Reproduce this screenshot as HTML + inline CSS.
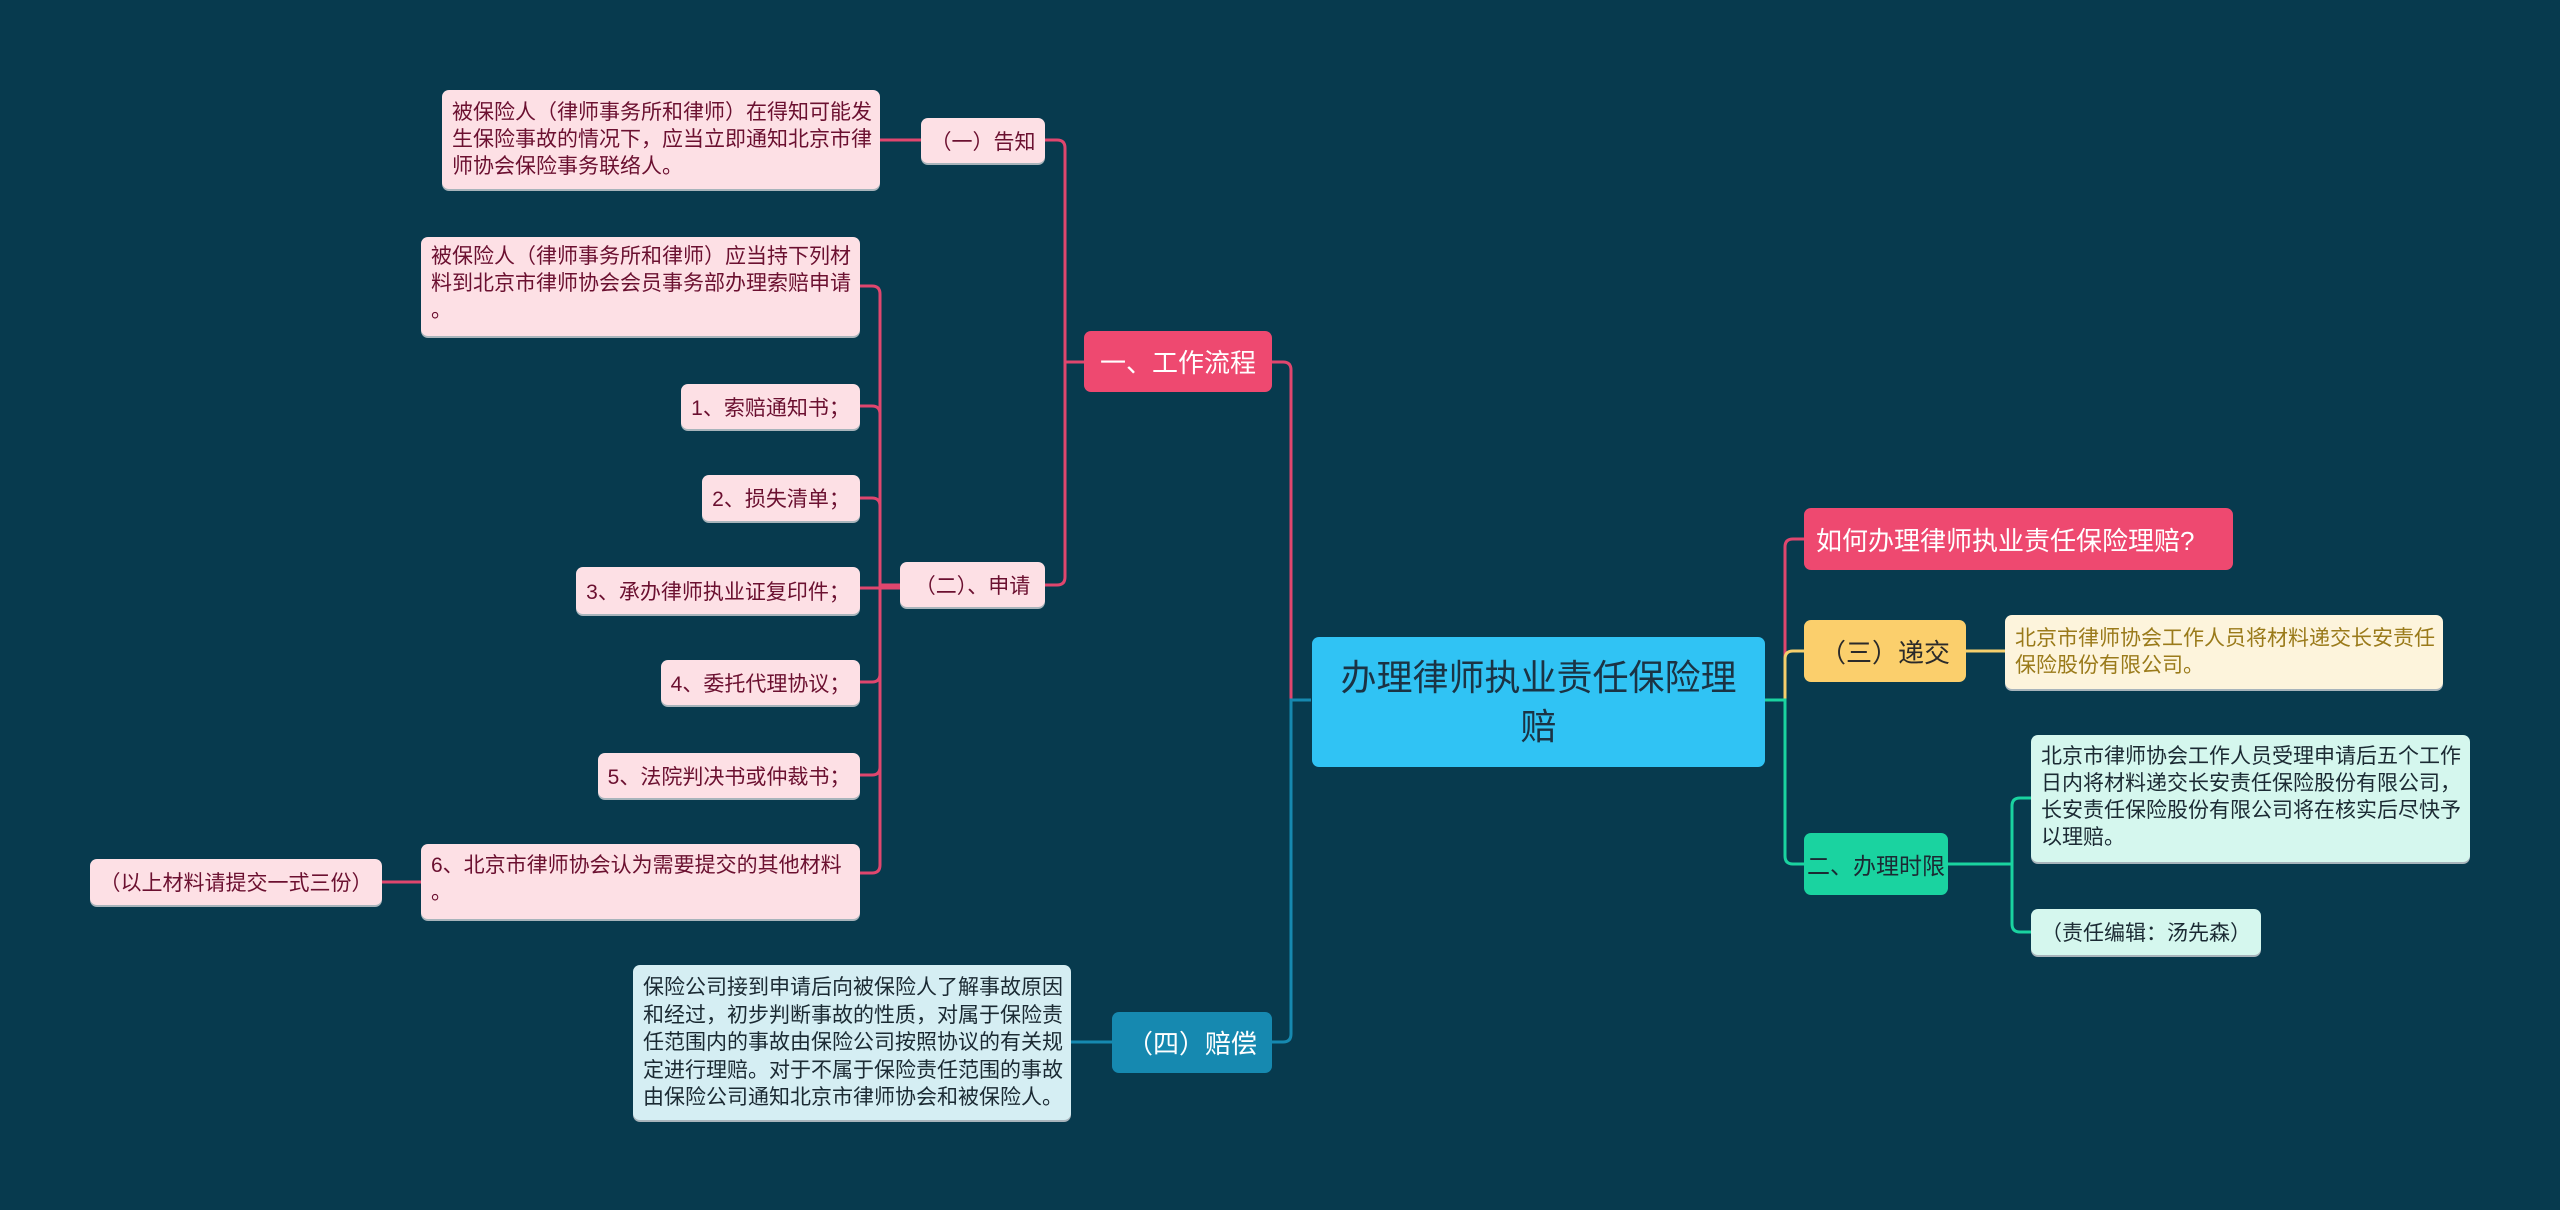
<!DOCTYPE html>
<html><head><meta charset="utf-8">
<style>
html,body{margin:0;padding:0}
body{width:2560px;height:1210px;background:#073a4e;position:relative;overflow:hidden;font-family:"Liberation Sans","Noto Sans CJK SC",sans-serif}
.n{position:absolute;box-sizing:border-box;border-radius:7px;display:flex;align-items:center;justify-content:center;white-space:nowrap}
.t{position:absolute;box-sizing:border-box;border-radius:7px;font-size:20.5px;line-height:27px;padding:6px 10px;white-space:nowrap}
.pk{background:#fde0e5;color:#6b1030;font-size:21px;box-shadow:0 2px 0 #a8b4bb}
svg{position:absolute;left:0;top:0}
path{fill:none;stroke-width:3}
</style></head><body>
<svg width="2560" height="1210">
<g stroke="#e0466e">
<path d="M1311 700 H1291 V370 Q1291 362 1283 362 H1272"/>
<path d="M1084 362 H1065 V148 Q1065 140 1057 140 H1045"/>
<path d="M1084 362 H1065 V577 Q1065 585 1057 585 H1045"/>
<path d="M900 585 H880 V294 Q880 286 872 286 H860"/>
<path d="M900 585 H880 V414 Q880 406 872 406 H860"/>
<path d="M900 585 H880 V506 Q880 498 872 498 H860"/>
<path d="M900 588 H860"/>
<path d="M900 585 H880 V674 Q880 682 872 682 H860"/>
<path d="M900 585 H880 V767 Q880 775 872 775 H860"/>
<path d="M900 585 H880 V865 Q880 873 872 873 H860"/>
<path d="M421 882 H382"/>
<path d="M921 140 H880"/>
<path d="M1765 700 H1785 V547 Q1785 539 1793 539 H1804"/>
</g>
<g stroke="#1689b0">
<path d="M1311 700 H1291 V1034 Q1291 1042 1283 1042 H1272"/>
<path d="M1112 1042 H1071"/>
</g>
<g stroke="#f5cf6c">
<path d="M1765 700 H1785 V659 Q1785 651 1793 651 H1804"/>
<path d="M1966 651 H2005"/>
</g>
<g stroke="#1ad3a0">
<path d="M1765 700 H1785 V856 Q1785 864 1793 864 H1804"/>
<path d="M1948 864 H2012 V806 Q2012 798 2020 798 H2031"/>
<path d="M1948 864 H2012 V924 Q2012 932 2020 932 H2031"/>
</g>
</svg>

<div class="n" style="left:1312px;top:637px;width:453px;height:130px;background:#30c3f4;color:#1b3344;font-size:36px;line-height:49px;text-align:center;flex-direction:column">办理律师执业责任保险理<br>赔</div>

<div class="n" style="left:1084px;top:331px;width:188px;height:61px;background:#ee4970;color:#fff;font-size:26px">一、工作流程</div>
<div class="n pk" style="left:921px;top:118px;width:124px;height:45px">（一）告知</div>
<div class="t pk" style="left:442px;top:90px;width:438px;height:99px;padding-top:9px">被保险人（律师事务所和律师）在得知可能发<br>生保险事故的情况下，应当立即通知北京市律<br>师协会保险事务联络人。</div>
<div class="n pk" style="left:900px;top:562px;width:145px;height:45px">（二）、申请</div>
<div class="t pk" style="left:421px;top:237px;width:439px;height:99px;padding-top:6px">被保险人（律师事务所和律师）应当持下列材<br>料到北京市律师协会会员事务部办理索赔申请<br>。</div>
<div class="n pk" style="left:681px;top:384px;width:179px;height:45px">1、索赔通知书；</div>
<div class="n pk" style="left:702px;top:475px;width:158px;height:46px">2、损失清单；</div>
<div class="n pk" style="left:576px;top:567px;width:284px;height:47px">3、承办律师执业证复印件；</div>
<div class="n pk" style="left:661px;top:660px;width:199px;height:45px">4、委托代理协议；</div>
<div class="n pk" style="left:598px;top:753px;width:262px;height:45px">5、法院判决书或仲裁书；</div>
<div class="t pk" style="left:421px;top:844px;width:439px;height:75px;padding-top:8px">6、北京市律师协会认为需要提交的其他材料<br>。</div>
<div class="n pk" style="left:90px;top:859px;width:292px;height:46px">（以上材料请提交一式三份）</div>

<div class="n" style="left:1112px;top:1012px;width:160px;height:61px;background:#1689b0;color:#fff;font-size:26px">（四）赔偿</div>
<div class="t" style="left:633px;top:965px;width:438px;height:155px;background:#d5eef3;color:#1b2a33;font-size:21px;line-height:27.5px;padding-top:9px;box-shadow:0 2px 0 #a8b4bb">保险公司接到申请后向被保险人了解事故原因<br>和经过，初步判断事故的性质，对属于保险责<br>任范围内的事故由保险公司按照协议的有关规<br>定进行理赔。对于不属于保险责任范围的事故<br>由保险公司通知北京市律师协会和被保险人。</div>

<div class="n" style="left:1804px;top:508px;width:429px;height:62px;background:#ee4970;color:#fff;font-size:26px;justify-content:flex-start;padding-left:12px">如何办理律师执业责任保险理赔?</div>
<div class="n" style="left:1804px;top:620px;width:162px;height:62px;background:#fbcf6c;color:#2a2a2a;font-size:26px">（三）递交</div>
<div class="t" style="left:2005px;top:615px;width:438px;height:74px;background:#fdf4dc;color:#9a7a1a;font-size:21px;padding-top:10px;box-shadow:0 2px 0 #a8b4bb">北京市律师协会工作人员将材料递交长安责任<br>保险股份有限公司。</div>
<div class="n" style="left:1804px;top:833px;width:144px;height:62px;background:#1ad3a0;color:#1b2a33;font-size:23px;padding:0">二、办理时限</div>
<div class="t" style="left:2031px;top:735px;width:439px;height:127px;background:#d5f7ee;color:#1b2a33;font-size:21px;padding-top:8px;box-shadow:0 2px 0 #a8b4bb">北京市律师协会工作人员受理申请后五个工作<br>日内将材料递交长安责任保险股份有限公司，<br>长安责任保险股份有限公司将在核实后尽快予<br>以理赔。</div>
<div class="n" style="left:2031px;top:909px;width:230px;height:46px;background:#d5f7ee;color:#1b2a33;font-size:21px;box-shadow:0 2px 0 #a8b4bb">（责任编辑：汤先森）</div>
</body></html>
